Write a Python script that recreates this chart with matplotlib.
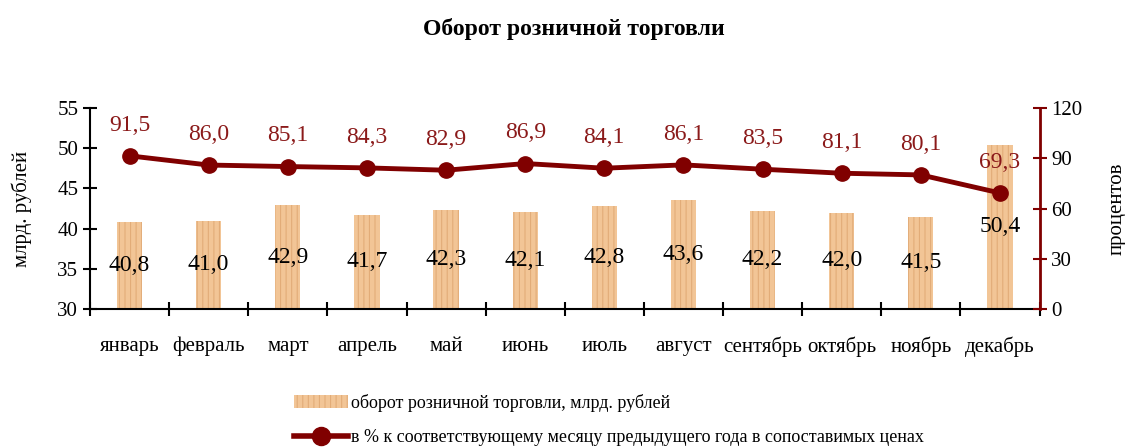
import matplotlib
matplotlib.use('Agg')
import matplotlib.pyplot as plt
from matplotlib.lines import Line2D
from matplotlib.patches import Patch
import numpy as np

plt.rcParams['font.family'] = 'Liberation Serif'
plt.rcParams['hatch.linewidth'] = 0.8

# Data
months = ['январь', 'февраль', 'март', 'апрель', 'май', 'июнь',
          'июль', 'август', 'сентябрь', 'октябрь', 'ноябрь', 'декабрь']
turnover = [40.8, 41.0, 42.9, 41.7, 42.3, 42.1, 42.8, 43.6, 42.2, 42.0, 41.5, 50.4]
pct_prev_year = [91.5, 86.0, 85.1, 84.3, 82.9, 86.9, 84.1, 86.1, 83.5, 81.1, 80.1, 69.3]

BAR_FC = '#F2C596'
BAR_HATCH = '#E2AC78'
LINE_C = '#800000'
LABEL_C = '#8B1A1A'

fig = plt.figure(figsize=(11.25, 4.47), dpi=100)
ax = fig.add_axes([0.08, 0.309, 0.844, 0.449])
ax2 = ax.twinx()

x = np.arange(len(months))
ax.bar(x, turnover, width=0.32, color=BAR_FC, edgecolor=BAR_HATCH,
       hatch='|||', linewidth=0, zorder=2)
for xi, v in zip(x, turnover):
    ax.text(xi, (30 + v) / 2, f'{v:.1f}'.replace('.', ','), ha='center', va='center',
            fontsize=17, color='black', zorder=5)

ax.set_ylim(30, 55)
ax.set_yticks(np.arange(30, 56, 5))
ax.set_xlim(-0.5, len(months) - 0.5)
ax.set_xticks(x)
ax.set_xticklabels(months, fontsize=15)
ax.set_xticks(np.arange(-0.5, len(months), 1), minor=True)
ax.tick_params(axis='x', which='major', length=0, pad=20)
ax.tick_params(axis='x', which='minor', length=10, direction='inout', width=1.5)
ax.tick_params(axis='y', labelsize=15, length=10, direction='inout', width=1.5)
ax.set_ylabel('млрд. рублей', fontsize=15, labelpad=18)
for s in ['top', 'right']:
    ax.spines[s].set_visible(False)
ax.spines['left'].set_linewidth(1.5)
ax.spines['bottom'].set_linewidth(1.5)

ax2.plot(x, pct_prev_year, color=LINE_C, lw=3.5, marker='o', ms=11, zorder=4)
for xi, v in zip(x, pct_prev_year):
    ax2.annotate(f'{v:.1f}'.replace('.', ','), (xi, v), xytext=(0, 22),
                 textcoords='offset points', ha='center', va='center',
                 fontsize=17, color=LABEL_C)
ax2.set_ylim(0, 120)
ax2.set_yticks(np.arange(0, 121, 30))
ax2.tick_params(axis='y', labelsize=15, length=10, direction='inout', width=1.5,
                color=LINE_C)
ax2.set_ylabel('процентов', fontsize=15, labelpad=18)
for s in ['top', 'left', 'bottom']:
    ax2.spines[s].set_visible(False)
ax2.spines['right'].set_color(LINE_C)
ax2.spines['right'].set_linewidth(2)

fig.text(0.51, 0.935, 'Оборот розничной торговли', ha='center', va='center',
         fontsize=17, fontweight='bold')

handles = [Patch(facecolor=BAR_FC, edgecolor=BAR_HATCH, hatch='|||', linewidth=0),
           Line2D([0], [0], color=LINE_C, lw=4, marker='o', ms=13)]
labels = ['оборот розничной торговли, млрд. рублей',
          'в % к соответствующему месяцу предыдущего года в сопоставимых ценах']
fig.legend(handles, labels, loc='upper left', bbox_to_anchor=(0.255, 0.135),
           frameon=False, fontsize=13, handlelength=3.0, handletextpad=0.15,
           labelspacing=0.95, borderaxespad=0)

fig.savefig('out.png', dpi=100, facecolor='white')
